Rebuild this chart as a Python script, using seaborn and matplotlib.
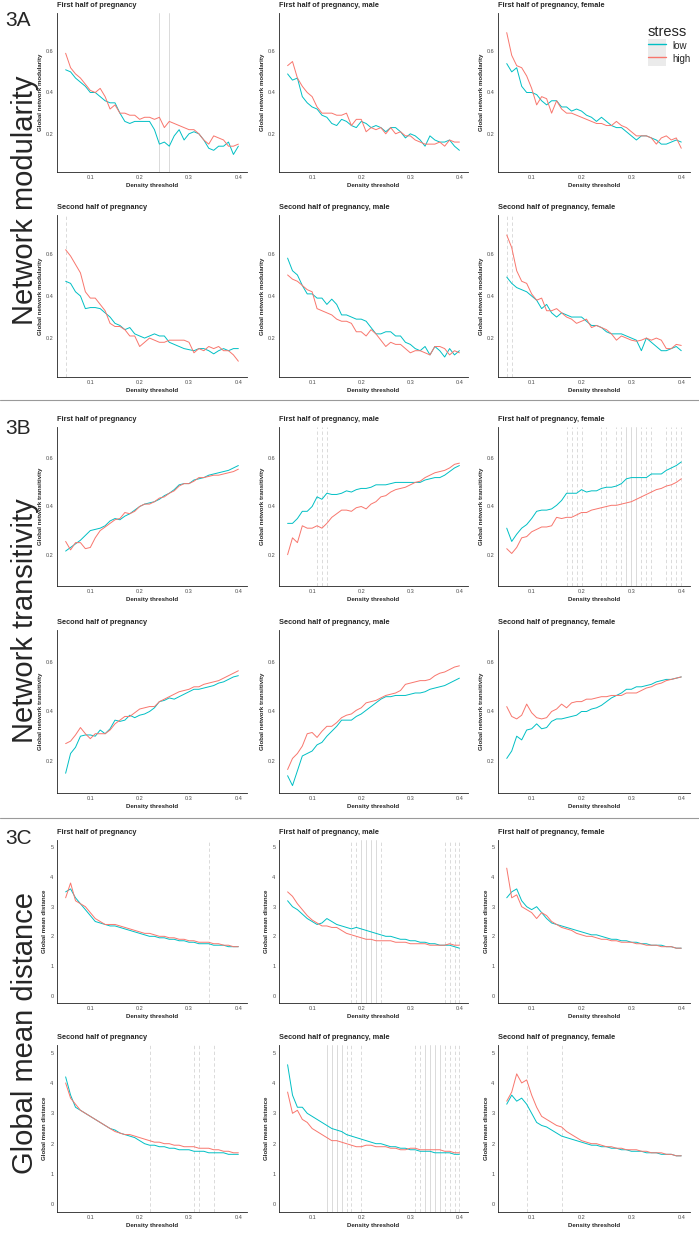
import numpy as np
import pandas as pd
import matplotlib
matplotlib.use("Agg")
import matplotlib.pyplot as plt
import seaborn as sns
from matplotlib.patches import Patch
from matplotlib.lines import Line2D
from matplotlib.legend_handler import HandlerTuple

sns.set_theme(style="white")
plt.rcParams["font.family"] = ["Liberation Sans", "DejaVu Sans"]

# density thresholds
density = [0.05, 0.06, 0.07, 0.08, 0.09, 0.10, 0.11, 0.12, 0.13, 0.14, 0.15, 0.16,
           0.17, 0.18, 0.19, 0.20, 0.21, 0.22, 0.23, 0.24, 0.25, 0.26, 0.27, 0.28,
           0.29, 0.30, 0.31, 0.32, 0.33, 0.34, 0.35, 0.36, 0.37, 0.38, 0.39, 0.40]

#3A modularity
mod_first_low = [0.51, 0.50, 0.47, 0.45, 0.43, 0.40, 0.40, 0.38, 0.36, 0.35, 0.35, 0.30, 0.26, 0.25, 0.26, 0.26, 0.26, 0.26,
                 0.22, 0.15, 0.16, 0.14, 0.19, 0.22, 0.17, 0.20, 0.21, 0.20, 0.17, 0.13, 0.12, 0.14, 0.14, 0.16, 0.10, 0.14]
mod_first_high = [0.59, 0.52, 0.49, 0.47, 0.44, 0.41, 0.40, 0.42, 0.38, 0.32, 0.34, 0.30, 0.30, 0.29, 0.29, 0.27, 0.28, 0.28,
                  0.27, 0.28, 0.23, 0.26, 0.25, 0.24, 0.23, 0.22, 0.22, 0.20, 0.17, 0.15, 0.19, 0.18, 0.17, 0.14, 0.14, 0.15]
mod_first_m_low = [0.49, 0.46, 0.47, 0.38, 0.35, 0.33, 0.32, 0.29, 0.28, 0.25, 0.24, 0.27, 0.26, 0.24, 0.23, 0.26, 0.25, 0.23,
                   0.24, 0.23, 0.21, 0.23, 0.23, 0.21, 0.18, 0.20, 0.19, 0.17, 0.14, 0.19, 0.17, 0.16, 0.16, 0.17, 0.14, 0.12]
mod_first_m_high = [0.53, 0.55, 0.47, 0.43, 0.40, 0.38, 0.33, 0.30, 0.30, 0.30, 0.29, 0.29, 0.30, 0.24, 0.27, 0.27, 0.21, 0.23,
                    0.22, 0.23, 0.20, 0.23, 0.20, 0.21, 0.19, 0.19, 0.17, 0.16, 0.15, 0.15, 0.15, 0.16, 0.14, 0.17, 0.16, 0.16]
mod_first_f_low = [0.54, 0.50, 0.52, 0.43, 0.40, 0.40, 0.39, 0.36, 0.34, 0.36, 0.36, 0.33, 0.33, 0.31, 0.32, 0.31, 0.29, 0.28,
                   0.26, 0.28, 0.26, 0.24, 0.23, 0.23, 0.21, 0.19, 0.17, 0.19, 0.19, 0.18, 0.17, 0.15, 0.15, 0.16, 0.17, 0.16]
mod_first_f_high = [0.69, 0.58, 0.53, 0.52, 0.48, 0.42, 0.34, 0.38, 0.37, 0.30, 0.36, 0.32, 0.30, 0.30, 0.29, 0.28, 0.27, 0.26,
                    0.25, 0.25, 0.24, 0.24, 0.26, 0.24, 0.23, 0.21, 0.19, 0.19, 0.19, 0.18, 0.15, 0.18, 0.19, 0.17, 0.18, 0.13]
mod_second_low = [0.47, 0.46, 0.42, 0.40, 0.34, 0.345, 0.345, 0.34, 0.32, 0.30, 0.27, 0.26, 0.24, 0.25, 0.22, 0.21, 0.20, 0.21,
                  0.22, 0.21, 0.21, 0.18, 0.17, 0.16, 0.15, 0.145, 0.14, 0.15, 0.15, 0.14, 0.125, 0.14, 0.15, 0.14, 0.15, 0.15]
mod_second_high = [0.62, 0.59, 0.55, 0.51, 0.42, 0.39, 0.39, 0.36, 0.33, 0.27, 0.255, 0.255, 0.24, 0.21, 0.21, 0.16, 0.18, 0.20,
                   0.19, 0.18, 0.18, 0.19, 0.19, 0.19, 0.19, 0.18, 0.13, 0.15, 0.14, 0.16, 0.15, 0.16, 0.14, 0.14, 0.12, 0.09]
mod_second_m_low = [0.58, 0.52, 0.50, 0.45, 0.41, 0.41, 0.39, 0.39, 0.36, 0.385, 0.36, 0.31, 0.31, 0.30, 0.29, 0.29, 0.28, 0.25,
                    0.22, 0.22, 0.23, 0.23, 0.21, 0.21, 0.18, 0.17, 0.15, 0.14, 0.16, 0.12, 0.16, 0.14, 0.11, 0.15, 0.12, 0.14]
mod_second_m_high = [0.50, 0.48, 0.47, 0.45, 0.43, 0.42, 0.34, 0.33, 0.32, 0.31, 0.29, 0.28, 0.28, 0.27, 0.23, 0.23, 0.21, 0.24,
                     0.22, 0.19, 0.16, 0.18, 0.17, 0.17, 0.15, 0.13, 0.14, 0.14, 0.13, 0.12, 0.16, 0.16, 0.15, 0.12, 0.14, 0.13]
mod_second_f_low = [0.49, 0.46, 0.44, 0.43, 0.42, 0.40, 0.38, 0.34, 0.36, 0.32, 0.30, 0.32, 0.31, 0.30, 0.30, 0.30, 0.28, 0.26,
                    0.26, 0.25, 0.23, 0.22, 0.22, 0.22, 0.21, 0.20, 0.19, 0.14, 0.20, 0.18, 0.16, 0.14, 0.14, 0.15, 0.16, 0.14]
mod_second_f_high = [0.69, 0.63, 0.52, 0.47, 0.46, 0.41, 0.38, 0.39, 0.33, 0.33, 0.34, 0.32, 0.30, 0.29, 0.27, 0.28, 0.29, 0.25,
                     0.26, 0.25, 0.24, 0.22, 0.19, 0.21, 0.20, 0.19, 0.185, 0.19, 0.20, 0.19, 0.20, 0.19, 0.15, 0.15, 0.17, 0.165]

#3B transitivity
tra_first_low = [0.215, 0.23, 0.245, 0.26, 0.28, 0.30, 0.305, 0.31, 0.32, 0.34, 0.35, 0.345, 0.36, 0.37, 0.385, 0.40, 0.41, 0.415,
                 0.42, 0.43, 0.445, 0.455, 0.47, 0.49, 0.495, 0.495, 0.51, 0.515, 0.52, 0.53, 0.535, 0.54, 0.545, 0.55, 0.56, 0.57]
tra_first_high = [0.255, 0.22, 0.25, 0.25, 0.225, 0.23, 0.27, 0.30, 0.315, 0.33, 0.345, 0.35, 0.375, 0.37, 0.38, 0.40, 0.41, 0.41,
                  0.42, 0.435, 0.44, 0.455, 0.465, 0.485, 0.495, 0.495, 0.505, 0.52, 0.52, 0.525, 0.53, 0.53, 0.535, 0.54, 0.545, 0.555]
tra_first_m_low = [0.33, 0.33, 0.35, 0.38, 0.38, 0.40, 0.44, 0.43, 0.455, 0.45, 0.45, 0.455, 0.465, 0.46, 0.47, 0.475, 0.475, 0.48,
                   0.49, 0.49, 0.49, 0.495, 0.50, 0.50, 0.50, 0.50, 0.50, 0.50, 0.51, 0.515, 0.52, 0.52, 0.53, 0.545, 0.56, 0.57]
tra_first_m_high = [0.20, 0.27, 0.25, 0.32, 0.31, 0.31, 0.32, 0.31, 0.33, 0.355, 0.37, 0.385, 0.385, 0.38, 0.395, 0.40, 0.39, 0.41,
                    0.42, 0.44, 0.445, 0.46, 0.47, 0.475, 0.48, 0.49, 0.50, 0.505, 0.52, 0.53, 0.54, 0.545, 0.55, 0.56, 0.575, 0.58]
tra_first_f_low = [0.31, 0.255, 0.285, 0.31, 0.325, 0.35, 0.38, 0.385, 0.385, 0.39, 0.405, 0.425, 0.455, 0.455, 0.455, 0.47, 0.46, 0.465,
                   0.465, 0.475, 0.48, 0.48, 0.485, 0.495, 0.515, 0.52, 0.52, 0.52, 0.52, 0.535, 0.535, 0.535, 0.55, 0.56, 0.57, 0.585]
tra_first_f_high = [0.225, 0.205, 0.23, 0.27, 0.275, 0.295, 0.305, 0.315, 0.315, 0.32, 0.355, 0.35, 0.355, 0.355, 0.365, 0.375, 0.375, 0.385,
                    0.39, 0.395, 0.40, 0.405, 0.405, 0.41, 0.415, 0.42, 0.43, 0.44, 0.45, 0.46, 0.47, 0.475, 0.485, 0.49, 0.50, 0.515]
tra_second_low = [0.15, 0.23, 0.255, 0.30, 0.305, 0.305, 0.30, 0.325, 0.31, 0.33, 0.365, 0.36, 0.365, 0.385, 0.375, 0.385, 0.39, 0.40,
                  0.415, 0.44, 0.445, 0.455, 0.45, 0.46, 0.47, 0.48, 0.49, 0.49, 0.495, 0.50, 0.505, 0.515, 0.52, 0.53, 0.54, 0.545]
tra_second_high = [0.27, 0.28, 0.305, 0.335, 0.31, 0.29, 0.31, 0.31, 0.31, 0.325, 0.35, 0.365, 0.38, 0.38, 0.395, 0.41, 0.415, 0.42,
                   0.42, 0.44, 0.45, 0.46, 0.47, 0.48, 0.485, 0.49, 0.50, 0.50, 0.51, 0.515, 0.52, 0.525, 0.535, 0.545, 0.555, 0.565]
tra_second_m_low = [0.14, 0.10, 0.16, 0.22, 0.23, 0.24, 0.265, 0.275, 0.30, 0.32, 0.34, 0.365, 0.365, 0.365, 0.38, 0.39, 0.405, 0.42,
                    0.435, 0.45, 0.46, 0.46, 0.465, 0.465, 0.465, 0.47, 0.475, 0.475, 0.48, 0.49, 0.495, 0.50, 0.505, 0.515, 0.525, 0.535]
tra_second_m_high = [0.165, 0.21, 0.23, 0.26, 0.31, 0.315, 0.295, 0.32, 0.34, 0.34, 0.355, 0.375, 0.385, 0.39, 0.405, 0.415, 0.435, 0.44,
                     0.445, 0.455, 0.465, 0.47, 0.475, 0.485, 0.51, 0.515, 0.52, 0.525, 0.525, 0.53, 0.545, 0.555, 0.56, 0.57, 0.58, 0.585]
tra_second_f_low = [0.21, 0.24, 0.30, 0.285, 0.325, 0.33, 0.35, 0.33, 0.335, 0.36, 0.37, 0.37, 0.375, 0.38, 0.385, 0.40, 0.40, 0.41,
                    0.415, 0.425, 0.44, 0.455, 0.465, 0.475, 0.49, 0.49, 0.50, 0.50, 0.505, 0.51, 0.52, 0.525, 0.53, 0.53, 0.535, 0.54]
tra_second_f_high = [0.42, 0.38, 0.37, 0.385, 0.43, 0.395, 0.375, 0.37, 0.375, 0.40, 0.41, 0.43, 0.415, 0.435, 0.44, 0.44, 0.45, 0.45,
                     0.455, 0.46, 0.46, 0.465, 0.465, 0.465, 0.475, 0.475, 0.475, 0.485, 0.495, 0.50, 0.51, 0.515, 0.525, 0.53, 0.535, 0.54]

#3C mean distance
dis_first_low = [3.5, 3.6, 3.3, 3.1, 2.9, 2.7, 2.5, 2.45, 2.4, 2.35, 2.35, 2.3, 2.25, 2.2, 2.15, 2.1, 2.05, 2.0,
                 2.0, 1.95, 1.95, 1.9, 1.9, 1.85, 1.85, 1.8, 1.8, 1.75, 1.75, 1.75, 1.7, 1.7, 1.7, 1.65, 1.65, 1.65]
dis_first_high = [3.3, 3.8, 3.2, 3.1, 3.0, 2.8, 2.6, 2.5, 2.4, 2.4, 2.4, 2.35, 2.3, 2.25, 2.2, 2.15, 2.1, 2.1,
                  2.05, 2.0, 2.0, 1.95, 1.95, 1.9, 1.9, 1.85, 1.85, 1.8, 1.8, 1.8, 1.75, 1.75, 1.7, 1.7, 1.65, 1.65]
dis_first_m_low = [3.2, 3.0, 2.9, 2.75, 2.6, 2.5, 2.4, 2.45, 2.6, 2.5, 2.4, 2.35, 2.3, 2.25, 2.3, 2.25, 2.2, 2.15,
                   2.1, 2.05, 2.0, 2.0, 1.95, 1.9, 1.9, 1.85, 1.85, 1.8, 1.8, 1.75, 1.75, 1.7, 1.7, 1.7, 1.65, 1.6]
dis_first_m_high = [3.5, 3.35, 3.1, 2.9, 2.7, 2.55, 2.45, 2.35, 2.35, 2.3, 2.3, 2.2, 2.1, 2.05, 2.0, 1.95, 1.9, 1.9,
                    1.85, 1.85, 1.85, 1.85, 1.8, 1.8, 1.8, 1.75, 1.75, 1.75, 1.75, 1.7, 1.7, 1.7, 1.7, 1.75, 1.7, 1.7]
dis_first_f_low = [3.3, 3.5, 3.6, 3.2, 3.0, 2.9, 3.0, 2.8, 2.6, 2.45, 2.4, 2.35, 2.3, 2.25, 2.2, 2.15, 2.1, 2.05,
                   2.05, 2.0, 1.95, 1.9, 1.9, 1.85, 1.85, 1.8, 1.8, 1.75, 1.75, 1.7, 1.7, 1.7, 1.65, 1.65, 1.6, 1.6]
dis_first_f_high = [4.3, 3.3, 3.4, 3.0, 2.9, 2.8, 2.6, 2.8, 2.7, 2.5, 2.4, 2.3, 2.25, 2.2, 2.1, 2.05, 2.0, 2.0,
                    1.95, 1.9, 1.9, 1.85, 1.85, 1.8, 1.8, 1.8, 1.75, 1.75, 1.7, 1.7, 1.7, 1.65, 1.65, 1.65, 1.6, 1.6]
dis_second_low = [4.2, 3.6, 3.2, 3.1, 3.0, 2.9, 2.8, 2.7, 2.6, 2.5, 2.45, 2.35, 2.3, 2.25, 2.2, 2.1, 2.0, 1.95,
                  1.95, 1.9, 1.9, 1.85, 1.85, 1.8, 1.8, 1.8, 1.75, 1.75, 1.75, 1.7, 1.7, 1.7, 1.7, 1.65, 1.65, 1.65]
dis_second_high = [4.0, 3.5, 3.3, 3.1, 3.0, 2.9, 2.8, 2.7, 2.6, 2.5, 2.4, 2.35, 2.3, 2.3, 2.25, 2.2, 2.15, 2.1,
                   2.05, 2.05, 2.0, 2.0, 1.95, 1.95, 1.9, 1.9, 1.9, 1.85, 1.85, 1.85, 1.8, 1.8, 1.75, 1.75, 1.7, 1.7]
dis_second_m_low = [4.6, 3.6, 3.2, 3.2, 3.0, 2.9, 2.8, 2.7, 2.6, 2.5, 2.45, 2.4, 2.3, 2.25, 2.2, 2.15, 2.1, 2.05,
                    2.0, 2.0, 1.95, 1.9, 1.9, 1.85, 1.85, 1.8, 1.8, 1.75, 1.75, 1.75, 1.7, 1.7, 1.7, 1.7, 1.65, 1.65]
dis_second_m_high = [3.7, 3.0, 3.1, 2.8, 2.7, 2.5, 2.4, 2.3, 2.2, 2.1, 2.1, 2.05, 2.0, 1.95, 1.9, 1.9, 1.95, 1.95,
                     1.9, 1.9, 1.9, 1.85, 1.85, 1.8, 1.8, 1.85, 1.85, 1.8, 1.8, 1.8, 1.8, 1.8, 1.75, 1.75, 1.7, 1.7]
dis_second_f_low = [3.3, 3.6, 3.4, 3.5, 3.3, 3.0, 2.7, 2.6, 2.55, 2.45, 2.35, 2.25, 2.2, 2.15, 2.1, 2.05, 2.0, 1.95,
                    1.95, 1.9, 1.9, 1.85, 1.85, 1.8, 1.8, 1.75, 1.75, 1.75, 1.7, 1.7, 1.7, 1.65, 1.65, 1.65, 1.6, 1.6]
dis_second_f_high = [3.4, 3.7, 4.3, 4.0, 4.1, 3.6, 3.2, 2.9, 2.8, 2.7, 2.6, 2.55, 2.4, 2.3, 2.2, 2.1, 2.05, 2.0,
                     2.0, 1.95, 1.9, 1.9, 1.85, 1.85, 1.8, 1.8, 1.8, 1.75, 1.75, 1.7, 1.7, 1.7, 1.65, 1.65, 1.6, 1.6]

titles = ["First half of pregnancy", "First half of pregnancy, male", "First half of pregnancy, female",
          "Second half of pregnancy", "Second half of pregnancy, male", "Second half of pregnancy, female"]

# significant thresholds (solid, dashed)
sig_mod = [([0.24, 0.26], []), ([], []), ([], []),
           ([], [0.05]), ([], []), ([], [0.05, 0.06])]
sig_tra = [([], []), ([], [0.11, 0.12, 0.13]),
           ([0.29, 0.30, 0.31], [0.17, 0.18, 0.19, 0.20, 0.24, 0.25, 0.27, 0.28, 0.32, 0.33, 0.34, 0.37, 0.38, 0.39, 0.40]),
           ([], []), ([], []), ([], [])]
sig_dis = [([], [0.34]), ([0.20, 0.21, 0.22, 0.23], [0.18, 0.19, 0.24, 0.37, 0.38, 0.39, 0.40]), ([], []),
           ([], [0.22, 0.31, 0.32, 0.35]),
           ([0.13, 0.14, 0.15, 0.16, 0.33, 0.34, 0.35, 0.36], [0.17, 0.18, 0.20, 0.31, 0.32, 0.37, 0.38, 0.39, 0.40]),
           ([], [0.09, 0.16])]

sections = [
    {"tag": "3A", "name": "Network modularity", "ylab": "Global network modularity", "ylim": (0.015, 0.785),
     "yticks": [0.2, 0.4, 0.6], "ylabels": ["0.2", "0.4", "0.6"],
     "data": [(mod_first_low, mod_first_high), (mod_first_m_low, mod_first_m_high), (mod_first_f_low, mod_first_f_high),
              (mod_second_low, mod_second_high), (mod_second_m_low, mod_second_m_high), (mod_second_f_low, mod_second_f_high)],
     "sig": sig_mod, "rows": [(13, 172), (215, 377)], "tagy": 21, "namey": 200},
    {"tag": "3B", "name": "Network transitivity", "ylab": "Global network transitivity", "ylim": (0.07, 0.73),
     "yticks": [0.2, 0.4, 0.6], "ylabels": ["0.2", "0.4", "0.6"],
     "data": [(tra_first_low, tra_first_high), (tra_first_m_low, tra_first_m_high), (tra_first_f_low, tra_first_f_high),
              (tra_second_low, tra_second_high), (tra_second_m_low, tra_second_m_high), (tra_second_f_low, tra_second_f_high)],
     "sig": sig_tra, "rows": [(427, 586), (630, 793)], "tagy": 428, "namey": 621},
    {"tag": "3C", "name": "Global mean distance", "ylab": "Global mean distance", "ylim": (-0.25, 5.25),
     "yticks": [0, 1, 2, 3, 4, 5], "ylabels": ["0", "1", "2", "3", "4", "5"],
     "data": [(dis_first_low, dis_first_high), (dis_first_m_low, dis_first_m_high), (dis_first_f_low, dis_first_f_high),
              (dis_second_low, dis_second_high), (dis_second_m_low, dis_second_m_high), (dis_second_f_low, dis_second_f_high)],
     "sig": sig_dis, "rows": [(840, 1003), (1045, 1212)], "tagy": 838, "namey": 1033},
]

pal = {"low": "#00BFC4", "high": "#F8766D"}
W, H = 699, 1237
cols = [(57, 247), (279, 468), (498, 690)]


def box(l, t, r, b):
    return [l / W, 1 - b / H, (r - l) / W, (b - t) / H]


fig = plt.figure(figsize=(W / 100, H / 100), dpi=100)

for sec in sections:
    for i in range(6):
        r, c = divmod(i, 3)
        top, bot = sec["rows"][r]
        ax = fig.add_axes(box(cols[c][0], top, cols[c][1], bot))
        low, high = sec["data"][i]
        df = pd.DataFrame({"density": density + density,
                           "value": low + high,
                           "stress": ["low"] * len(low) + ["high"] * len(high)})
        solid, dashed = sec["sig"][i]
        for v in solid:
            ax.axvline(v, color="#d4d4d4", lw=0.6, zorder=0)
        for v in dashed:
            ax.axvline(v, color="#d4d4d4", lw=0.6, ls=(0, (4, 3)), zorder=0)
        sns.lineplot(data=df, x="density", y="value", hue="stress", palette=pal,
                     hue_order=["low", "high"], ax=ax, legend=False, lw=0.7)
        ax.set_xlim(0.0325, 0.4175)
        ax.set_ylim(*sec["ylim"])
        ax.set_xticks([0.1, 0.2, 0.3, 0.4])
        ax.set_xticklabels(["0.1", "0.2", "0.3", "0.4"])
        ax.set_yticks(sec["yticks"])
        ax.set_yticklabels(sec["ylabels"])
        ax.tick_params(labelsize=4, colors="#4d4d4d", length=1.5, width=0.5, pad=1)
        ax.set_title(titles[i], loc="left", fontsize=5.3, fontweight="bold", pad=4)
        ax.set_xlabel("Density threshold", fontsize=4.4, fontweight="bold", labelpad=2)
        ax.set_ylabel(sec["ylab"], fontsize=4.4, fontweight="bold", labelpad=2)
        sns.despine(ax=ax)
        for s in ["left", "bottom"]:
            ax.spines[s].set_color("#222222")
            ax.spines[s].set_linewidth(0.6)
        ax.grid(False)
        if sec["tag"] == "3A" and i == 2:
            handles = [(Patch(facecolor="#ebebeb", edgecolor="none"), Line2D([], [], color=pal[k], lw=1.0))
                       for k in ["low", "high"]]
            fig.legend(handles, ["low", "high"], title="stress", loc="upper left",
                       bbox_to_anchor=(643 / W, 1 - 20 / H), frameon=False, fontsize=7,
                       title_fontsize=10.5, handler_map={tuple: HandlerTuple(ndivide=1)},
                       handlelength=1.9, handleheight=1.75, labelspacing=0, handletextpad=0.6,
                       borderpad=0, alignment="left")
    fig.text(5 / W, 1 - sec["tagy"] / H, sec["tag"], fontsize=15, va="center", ha="left")
    fig.text(25 / W, 1 - sec["namey"] / H, sec["name"], fontsize=21, rotation=90, va="center", ha="center")

for y in [400, 818]:
    fig.add_artist(Line2D([0, 1], [1 - y / H, 1 - y / H], color="#9a9a9a", lw=0.8, transform=fig.transFigure))

fig.savefig("out.png", dpi=100)
